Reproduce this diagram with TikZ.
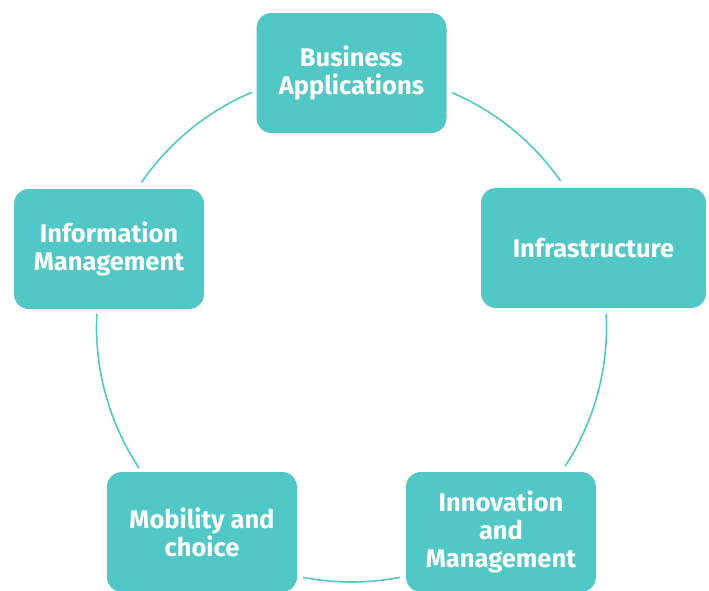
\documentclass[tikz,border=0pt]{standalone}
\usepackage{fontspec}
\setmainfont{Fira Sans}
\definecolor{teal1}{RGB}{82,200,198}
\begin{document}
\begin{tikzpicture}[x=1pt,y=-1pt,
  box/.style={fill=teal1, draw=none, rounded corners=15pt, minimum width=190pt, minimum height=120pt, inner sep=0pt, text=white, align=center, font=\fontsize{25.5}{28}\selectfont\bfseries},
  ring/.style={draw=teal1, line width=1.6pt}]
\useasboundingbox (0,0) rectangle (709,590);
\coordinate (c) at (351.5,327);
\node[box] (ba) at (351.5,73) {Business\\Applications};
\node[box, minimum width=225pt] (inf) at (593.5,248) {Infrastructure};
\node[box] (im) at (109,249) {Information\\Management};
\node[box] (mc) at (202,532) {Mobility and\\choice};
\node[box] (inm) at (501,532) {Innovation\\and\\Management};
\begin{scope}[y=1pt]
\draw[ring] ([shift={(113:255)}]c) arc[start angle=113, end angle=145.5, radius=255];
\draw[ring] ([shift={(34.9:255)}]c) arc[start angle=34.9, end angle=66.8, radius=255];
\draw[ring] ([shift={(-33.1:255)}]c) arc[start angle=-33.1, end angle=2.9, radius=255];
\draw[ring] ([shift={(177.1:255)}]c) arc[start angle=177.1, end angle=213.6, radius=255];
\draw[ring] ([shift={(259:255)}]c) arc[start angle=259, end angle=281, radius=255];
\end{scope}
\end{tikzpicture}
\end{document}
